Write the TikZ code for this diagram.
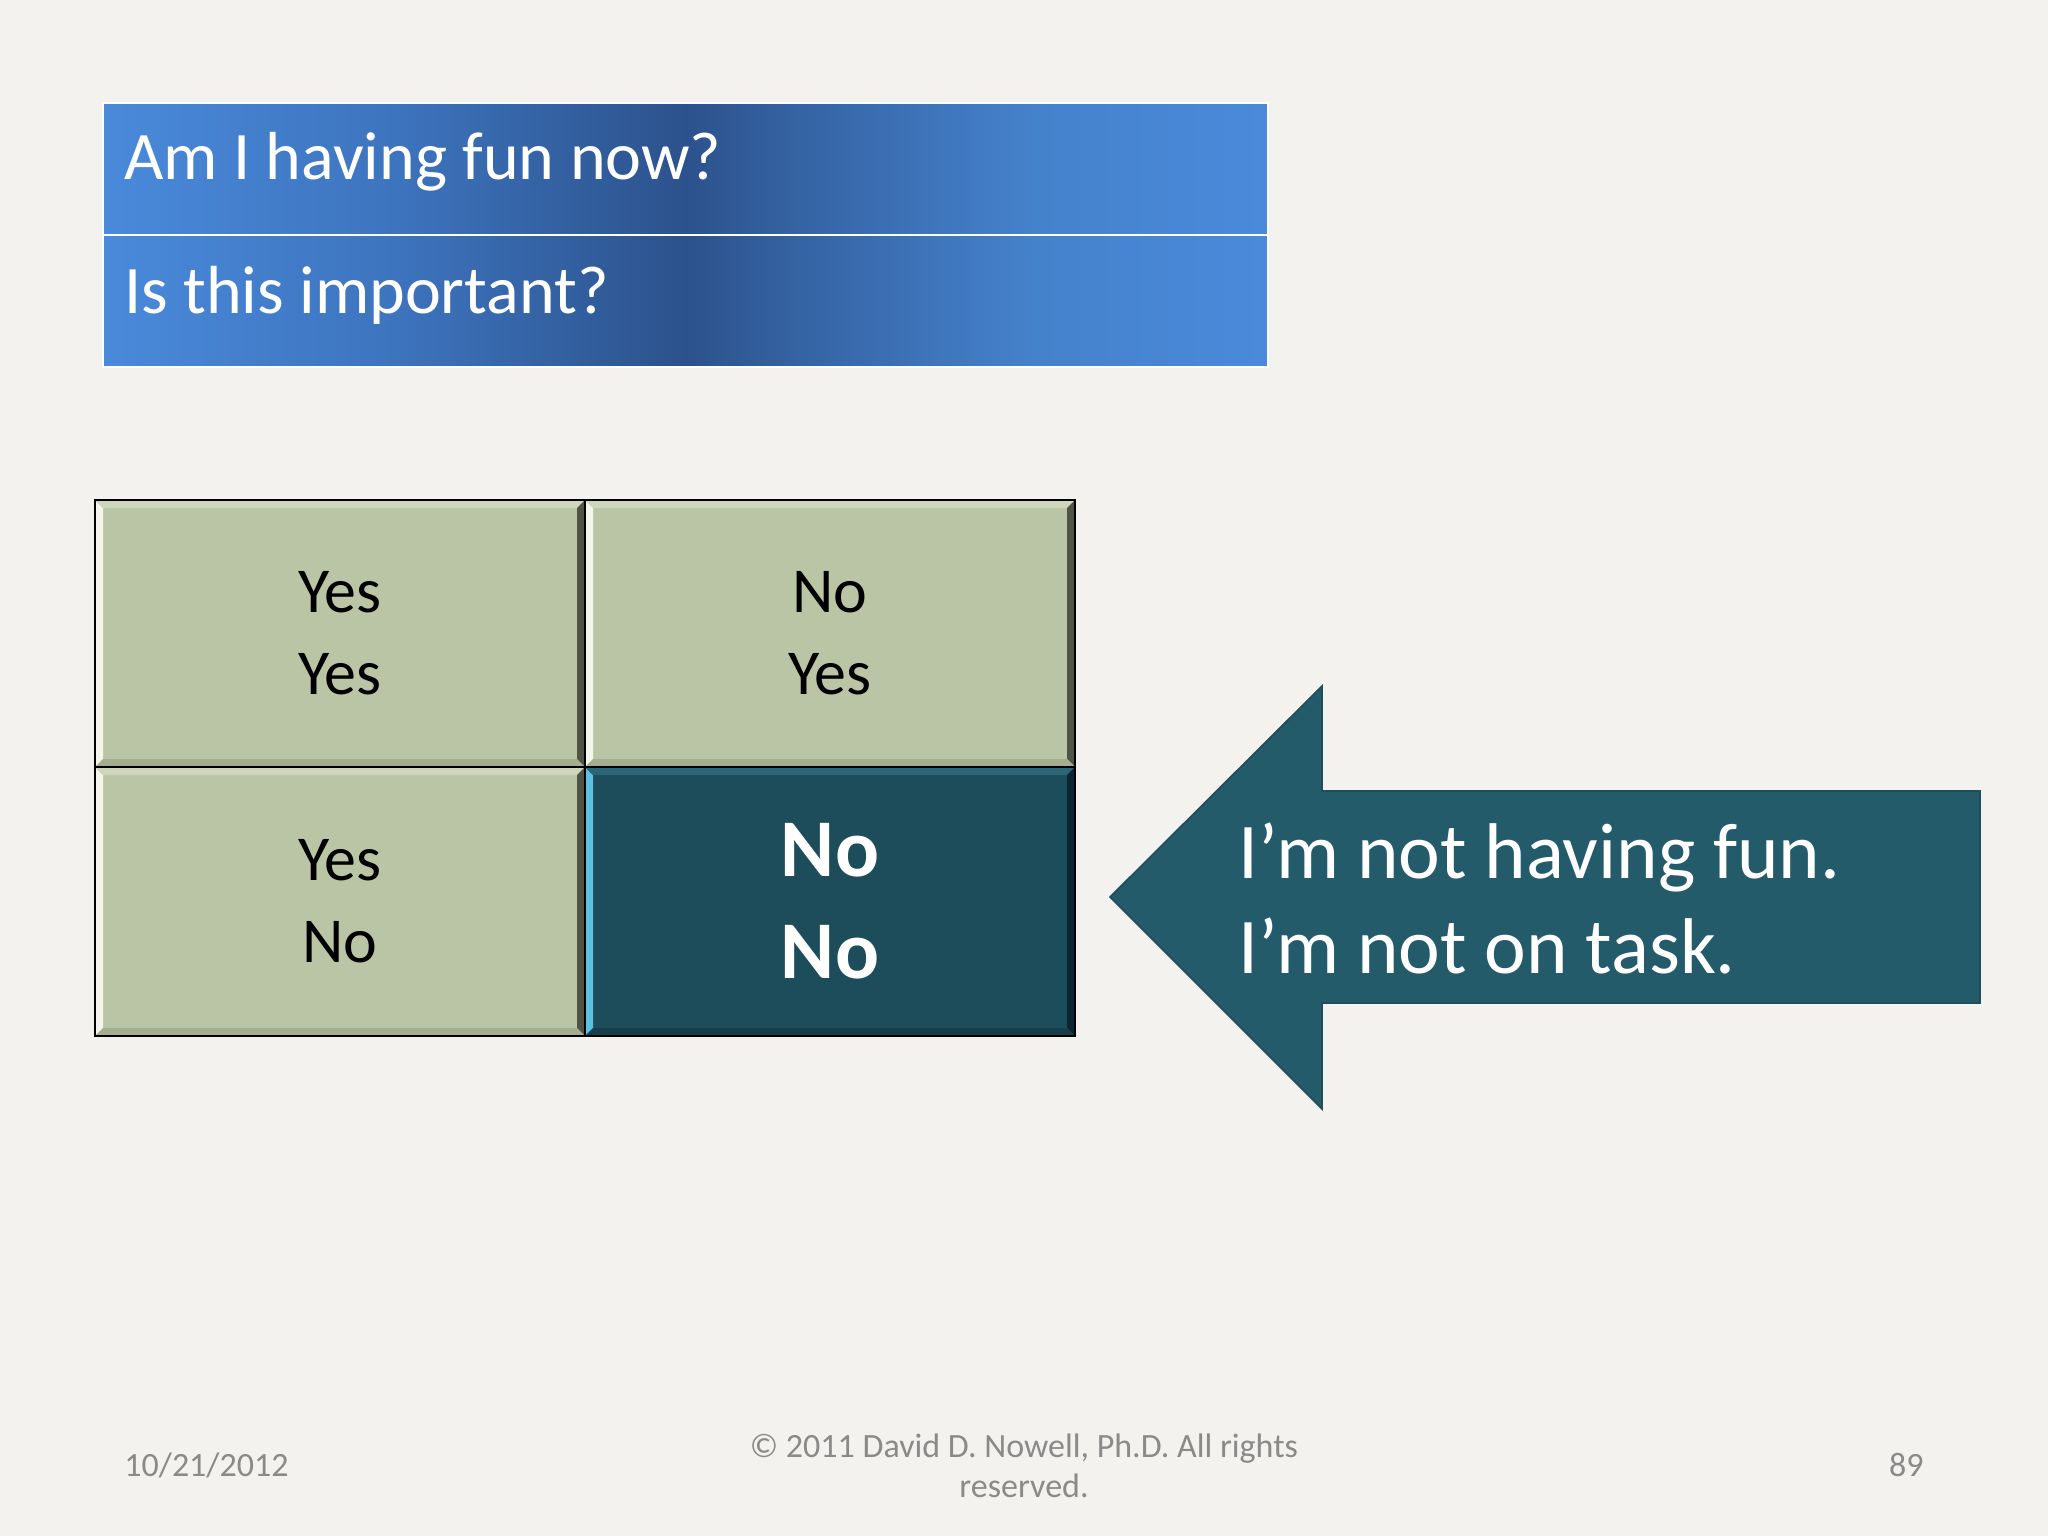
\documentclass[tikz,border=0pt]{standalone}
\usepackage{fontspec}
\setmainfont{Carlito}
\definecolor{bg}{HTML}{F3F2EE}
\definecolor{tbA}{HTML}{4A8ADB}
\definecolor{tbB}{HTML}{3D74BE}
\definecolor{tbC}{HTML}{2C528C}
\definecolor{tbD}{HTML}{3767A9}
\definecolor{tbE}{HTML}{4582CC}
\definecolor{cellG}{HTML}{BAC5A5}
\definecolor{cellGL}{HTML}{F4F6EC}
\definecolor{cellGT}{HTML}{CED6BC}
\definecolor{cellGR}{HTML}{4F5444}
\definecolor{cellGB}{HTML}{A4AD8F}
\definecolor{cellD}{HTML}{1D4C5B}
\definecolor{cellDL}{HTML}{5BC2E2}
\definecolor{cellDT}{HTML}{2C6575}
\definecolor{cellDR}{HTML}{0C2630}
\definecolor{cellDB}{HTML}{163F4B}
\definecolor{arrowC}{HTML}{245B6A}
\definecolor{foot}{HTML}{8A8A8A}
\pgfdeclarehorizontalshading{tbshade}{100bp}{color(0bp)=(tbA); color(25bp)=(tbA); color(37.5bp)=(tbB); color(50bp)=(tbC); color(56bp)=(tbD); color(65bp)=(tbE); color(75bp)=(tbA); color(100bp)=(tbA)}
\newcommand\mybevel[9]{%
\fill[#5] (#1,#2) rectangle (#3,#4);
\fill[#6] (#1,#2) -- ({#1+8},{#2+8}) -- ({#1+8},{#4-8}) -- (#1,#4) -- cycle;
\fill[#7] (#1,#2) -- (#3,#2) -- ({#3-8},{#2+8}) -- ({#1+8},{#2+8}) -- cycle;
\fill[#8] (#3,#2) -- (#3,#4) -- ({#3-8},{#4-8}) -- ({#3-8},{#2+8}) -- cycle;
\fill[#9] (#1,#4) -- (#3,#4) -- ({#3-8},{#4-8}) -- ({#1+8},{#4-8}) -- cycle;
}
\tikzset{
  barbox/.style={rectangle, inner sep=0pt, minimum width=582.5pt, minimum height=66pt, shading=tbshade, draw=white, line width=1pt},
  qtext/.style={anchor=base west, text=white, inner sep=0pt, font=\fontsize{34}{41}\selectfont},
  celltext/.style={align=center, inner sep=0pt, font=\fontsize{32}{41}\selectfont},
  bigtext/.style={align=center, inner sep=0pt, text=white, font=\fontsize{41}{51}\selectfont\bfseries},
  arrtext/.style={anchor=base west, text=white, inner sep=0pt, font=\fontsize{39.5}{47.6}\selectfont},
  foottext/.style={text=foot, inner sep=0pt, font=\fontsize{17}{20}\selectfont}
}
\begin{document}
\begin{tikzpicture}[x=0.5pt,y=-0.5pt]
\useasboundingbox (0,0) rectangle (2048,1536);
\fill[bg] (0,0) rectangle (2048,1536);
% title bars
\node[barbox] (bar1) at (685.5,169) {};
\node[barbox] (bar2) at (685.5,301) {};
\node[qtext] (q1) at (124,179) {Am I having fun now?};
\node[qtext] (q2) at (124,313) {Is this important?};
% grid
\mybevel{95}{500}{585}{767}{cellG}{cellGL}{cellGT}{cellGR}{cellGB}
\mybevel{585}{500}{1075}{767}{cellG}{cellGL}{cellGT}{cellGR}{cellGB}
\mybevel{95}{767}{585}{1036}{cellG}{cellGL}{cellGT}{cellGR}{cellGB}
\mybevel{585}{767}{1075}{1036}{cellD}{cellDL}{cellDT}{cellDR}{cellDB}
\draw[line width=1.3pt] (95,500) rectangle (1075,1036);
\draw[line width=1.3pt] (585,500) -- (585,1036);
\draw[line width=1.3pt] (95,767) -- (1075,767);
\node[celltext] (c11) at (340,633.5) {Yes\\Yes};
\node[celltext] (c12) at (830,633.5) {No\\Yes};
\node[celltext] (c21) at (340,901.5) {Yes\\No};
\node[bigtext] (c22) at (830,901.5) {No\\No};
% arrow
\fill[arrowC, draw=arrowC!85!black, line width=0.8pt] (1110,897) -- (1322,686) -- (1322,791) -- (1980,791) -- (1980,1003) -- (1322,1003) -- (1322,1109) -- cycle;
\node[arrtext] (m1) at (1238,878) {I’m not having fun.};
\node[arrtext] (m2) at (1238,973) {I’m not on task.};
% footer
\node[foottext, anchor=west] (date) at (124,1465) {10/21/2012};
\node[foottext, align=center] (copy) at (1024,1466) {© 2011 David D. Nowell, Ph.D. All rights\\reserved.};
\node[foottext, anchor=east] (page) at (1924,1465) {89};
\end{tikzpicture}
\end{document}
